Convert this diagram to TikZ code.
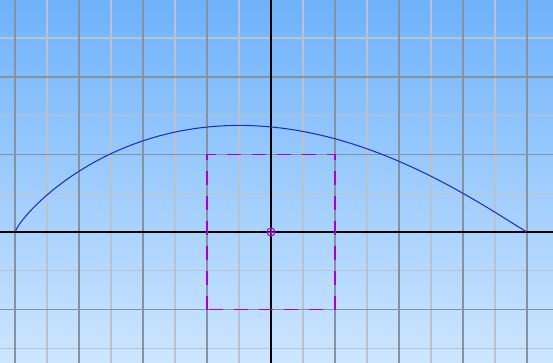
\documentclass[tikz,border=0pt]{standalone}

\definecolor{nenTren}{RGB}{110,178,250}
\definecolor{nenDuoi}{RGB}{205,230,255}
\definecolor{luoiDam}{RGB}{135,145,160}
\definecolor{luoiNhat}{RGB}{188,193,203}
\definecolor{duongCong}{RGB}{35,45,180}
\definecolor{tim}{RGB}{175,0,200}

\begin{document}
\begin{tikzpicture}[x=0.64cm, y=0.776cm, >=latex]

    % 1. Khung và nền chuyển màu
    \useasboundingbox (-8.469,-3.376) rectangle (8.813,5.979);
    \shade[top color=nenTren, bottom color=nenDuoi] (-8.469,-3.376) rectangle (8.813,5.979);

    % 2. Lưới ô vuông (nhạt và đậm)
    \draw[luoiNhat, line width=0.75pt, xstep=0.64cm, ystep=0.776cm] (-8.469,-3.376) grid (8.813,5.979);
    \draw[luoiDam, line width=0.85pt, xstep=1.28cm, ystep=1.552cm] (-8.469,-3.376) grid (8.813,5.979);

    % 3. Trục Ox, Oy
    \draw[black, line width=0.8pt] (-8.469,0) -- (8.813,0);
    \draw[black, line width=0.8pt] (0,-3.376) -- (0,5.979);
    \coordinate (O) at (0,0);

    % 4. Đường cong y = c (x+8)^p (8-x)^q
    \draw[duongCong, line width=0.6pt, smooth, domain=-7.999:7.999, samples=150]
        plot (\x, {0.0552*(\x+8)^0.82*(8-\x)^1.052});

    % 5. Hình vuông nét đứt
    \draw[tim, line width=0.65pt, dash pattern=on 0.28cm off 0.22cm] (-2,-2) rectangle (2,2);

    % 6. Điểm đánh dấu tại gốc
    \draw[tim, line width=0.6pt] (O) circle (0.08cm);
    \draw[tim, line width=0.5pt] ([xshift=-0.08cm]O) -- ([xshift=0.08cm]O);
    \draw[tim, line width=0.5pt] ([yshift=-0.08cm]O) -- ([yshift=0.08cm]O);

\end{tikzpicture}
\end{document}
